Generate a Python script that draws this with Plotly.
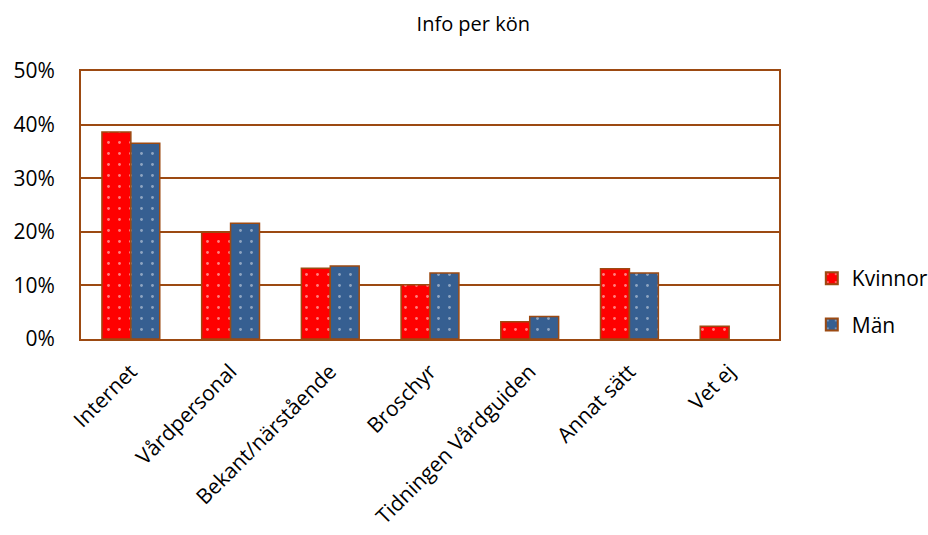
import plotly.graph_objects as go

categories = ["Internet", "Vårdpersonal", "Bekant/närstående", "Broschyr",
              "Tidningen Vårdguiden", "Annat sätt", "Vet ej"]
kvinnor = [0.386, 0.199, 0.132, 0.101, 0.032, 0.131, 0.024]
man = [0.365, 0.216, 0.136, 0.123, 0.042, 0.123, None]
y_ticks = [0, 0.1, 0.2, 0.3, 0.4, 0.5]

brown = "#9C4A12"
font_family = "'Open Sans', Lato, sans-serif"

fig = go.Figure()
fig.add_trace(go.Bar(
    name="Kvinnor", x=categories, y=kvinnor, legendgroup="k",
    marker=dict(color="#FF0000", line=dict(color=brown, width=1.5),
                pattern=dict(shape=".", fgcolor="white", bgcolor="#FF0000",
                             size=11, solidity=0.05)),
))
fig.add_trace(go.Bar(
    name="Män", x=categories, y=man, legendgroup="m",
    marker=dict(color="#365F91", line=dict(color=brown, width=1.5),
                pattern=dict(shape=".", fgcolor="#E8ECF4", bgcolor="#365F91",
                             size=11, solidity=0.05)),
))

fig.update_layout(
    width=928, height=535,
    margin=dict(l=81, r=149, t=71, b=196, autoexpand=False),
    paper_bgcolor="white", plot_bgcolor="white",
    barmode="group", bargap=0.42, bargroupgap=0,
    font=dict(family=font_family, color="black"),
    title=dict(text="Info per kön", x=0.51, xanchor="center", y=0.955, yanchor="middle",
               font=dict(size=20, family=font_family, color="black")),
    legend=dict(x=1.047, y=0.14, xanchor="left", yanchor="middle",
                font=dict(size=21), itemsizing="constant",
                traceorder="grouped", tracegroupgap=16),
    showlegend=True,
)
fig.update_xaxes(
    tickangle=-45, tickfont=dict(size=21), showline=True, linecolor=brown,
    linewidth=2, mirror=True, ticks="", showgrid=False, ticklabelstandoff=10,
    automargin=False,
)
fig.update_yaxes(
    range=[0, 0.5], tickvals=y_ticks, tickformat=".0%", tickfont=dict(size=21),
    showline=True, linecolor=brown, linewidth=2, mirror=True,
    showgrid=True, gridcolor=brown, gridwidth=1.5, zeroline=False, ticks="",
    ticklabelstandoff=20, automargin=False,
)

fig.write_html("out.html")
